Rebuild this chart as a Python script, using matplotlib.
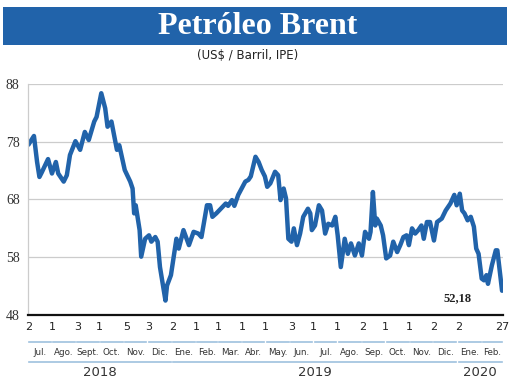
import matplotlib

matplotlib.use("Agg")
import matplotlib.pyplot as plt
import pandas as pd
from matplotlib.patches import Rectangle
from matplotlib.transforms import blended_transform_factory

# precio del Brent (US$ / barril)
fechas = [
    "2018-07-02", "2018-07-09", "2018-07-13", "2018-07-16", "2018-07-19",
    "2018-07-27", "2018-08-01", "2018-08-06", "2018-08-09", "2018-08-16",
    "2018-08-20", "2018-08-24", "2018-08-31", "2018-09-06", "2018-09-12",
    "2018-09-17", "2018-09-24", "2018-09-27", "2018-10-03", "2018-10-08",
    "2018-10-11", "2018-10-16", "2018-10-23", "2018-10-26", "2018-11-02",
    "2018-11-09", "2018-11-12", "2018-11-14", "2018-11-16", "2018-11-21",
    "2018-11-23", "2018-11-28", "2018-12-03", "2018-12-06", "2018-12-11",
    "2018-12-14", "2018-12-17", "2018-12-24", "2018-12-26", "2018-12-31",
    "2019-01-07", "2019-01-10", "2019-01-16", "2019-01-23", "2019-01-29",
    "2019-02-04", "2019-02-08", "2019-02-15", "2019-02-19", "2019-02-22",
    "2019-02-27", "2019-03-11", "2019-03-14", "2019-03-19", "2019-03-22",
    "2019-03-27", "2019-04-05", "2019-04-09", "2019-04-12", "2019-04-18",
    "2019-04-22", "2019-04-26", "2019-04-30", "2019-05-03", "2019-05-07",
    "2019-05-13", "2019-05-17", "2019-05-20", "2019-05-24", "2019-05-27",
    "2019-05-30", "2019-06-03", "2019-06-06", "2019-06-10", "2019-06-14",
    "2019-06-18", "2019-06-24", "2019-06-27", "2019-06-29", "2019-07-03",
    "2019-07-08", "2019-07-12", "2019-07-16", "2019-07-20", "2019-07-25",
    "2019-07-29", "2019-08-01", "2019-08-05", "2019-08-10", "2019-08-14",
    "2019-08-18", "2019-08-23", "2019-08-28", "2019-09-01", "2019-09-05",
    "2019-09-10", "2019-09-12", "2019-09-15", "2019-09-18", "2019-09-20",
    "2019-09-25", "2019-09-28", "2019-10-02", "2019-10-07", "2019-10-11",
    "2019-10-16", "2019-10-20", "2019-10-24", "2019-10-28", "2019-10-31",
    "2019-11-04", "2019-11-08", "2019-11-12", "2019-11-16", "2019-11-19",
    "2019-11-23", "2019-11-27", "2019-12-02", "2019-12-06", "2019-12-12",
    "2019-12-17", "2019-12-23", "2019-12-28", "2019-12-31", "2020-01-04",
    "2020-01-07", "2020-01-10", "2020-01-14", "2020-01-18", "2020-01-22",
    "2020-01-25", "2020-01-28", "2020-02-01", "2020-02-04", "2020-02-07",
    "2020-02-09", "2020-02-14", "2020-02-19", "2020-02-21", "2020-02-27",
]
precios = [
    77.5, 79.0, 74.5, 71.9, 72.7,
    75.0, 72.5, 74.5, 72.5, 71.1,
    72.2, 75.7, 78.1, 76.6, 79.7,
    78.3, 81.5, 82.3, 86.4, 83.8,
    80.6, 81.5, 76.6, 77.4, 73.1,
    71.1, 69.9, 65.6, 67.0, 62.7,
    58.1, 61.2, 61.8, 60.7, 61.5,
    60.7, 56.3, 50.5, 53.1, 54.9,
    61.2, 59.5, 62.7, 60.1, 62.4,
    62.1, 61.5, 67.0, 67.0, 65.0,
    65.6, 67.3, 66.9, 67.9, 66.9,
    68.8, 71.1, 71.4, 72.0, 75.4,
    74.5, 73.1, 72.0, 70.2, 70.8,
    72.8, 72.2, 67.9, 69.9, 68.2,
    61.2, 60.7, 63.0, 60.1, 62.1,
    65.0, 66.4, 65.6, 62.7, 63.5,
    67.0, 66.1, 62.1, 63.8, 63.5,
    65.0, 61.8, 56.3, 61.2, 58.6,
    60.4, 58.3, 60.4, 58.3, 62.4,
    61.2, 62.4, 69.3, 63.5, 64.7,
    63.5, 61.8, 57.8, 58.3, 60.7,
    58.9, 60.1, 61.5, 61.8, 60.1,
    63.0, 62.1, 62.7, 63.5, 61.2,
    64.1, 64.1, 60.9, 64.1, 64.7,
    66.1, 67.3, 68.8, 67.0, 69.0,
    66.1, 65.6, 64.4, 65.0, 63.3,
    59.5, 58.6, 54.3, 54.0, 54.9,
    53.4, 56.6, 59.2, 59.2, 52.2,
]
ultimo_valor = "52,18"

# días marcados en el eje
dias_tick = [
    "2018-07-02", "2018-08-01", "2018-09-03", "2018-10-01", "2018-11-05",
    "2018-12-03", "2019-01-02", "2019-02-01", "2019-03-01", "2019-04-01",
    "2019-05-01", "2019-06-03", "2019-07-01", "2019-08-01", "2019-09-02",
    "2019-10-01", "2019-11-01", "2019-12-02", "2020-01-02", "2020-02-27",
]
meses = [
    "Jul.", "Ago.", "Sept.", "Oct.", "Nov.", "Dic.", "Ene.", "Feb.", "Mar.", "Abr.",
    "May.", "Jun.", "Jul.", "Ago.", "Sep.", "Oct.", "Nov.", "Dic.", "Ene.", "Feb.",
]
inicio_meses = pd.date_range("2018-07-01", "2020-03-01", freq="MS")
anios = ["2018", "2019", "2020"]
valores_y = [48, 58, 68, 78, 88]

AZUL = "#2163aa"
AZUL_CLARO = "#9ec1de"
condensada = ["Liberation Sans Narrow", "DejaVu Sans"]

x = pd.to_datetime(fechas)
inicio = pd.Timestamp("2018-07-01 12:00")
fin = pd.Timestamp("2020-02-28")

fig = plt.figure(figsize=(5.2, 3.82), dpi=100)
ax = fig.add_axes([0.054, 0.1754, 0.913, 0.6047])

ax.plot(x, precios, color=AZUL, lw=3.2, solid_joinstyle="round", solid_capstyle="round")

ax.set_xlim(inicio, fin)
ax.set_ylim(48, 88)
ax.set_yticks(valores_y)
ax.set_yticklabels([str(v) for v in valores_y], family="Liberation Serif", fontsize=10, color="#333333")
ax.grid(axis="y", color="#cccccc", lw=0.9)
ax.set_axisbelow(True)

ax.set_xticks(pd.to_datetime(dias_tick))
ax.set_xticklabels([str(pd.Timestamp(d).day) for d in dias_tick], family=condensada,
                   fontsize=8, color="#222222")
ax.tick_params(axis="both", length=0)
ax.tick_params(axis="x", pad=5)
ax.tick_params(axis="y", pad=6)

for lado in ["top", "right"]:
    ax.spines[lado].set_visible(False)
ax.spines["left"].set_color("#cccccc")
ax.spines["left"].set_linewidth(0.9)
ax.spines["bottom"].set_color("#111111")
ax.spines["bottom"].set_linewidth(1.6)

# último valor
ax.annotate(ultimo_valor, xy=(x[-1], precios[-1]), xytext=(-22, -5), textcoords="offset points",
            ha="right", va="center", family="Liberation Serif", fontweight="bold", fontsize=9,
            color="#222222")

# meses y años bajo el eje
trans = blended_transform_factory(ax.transData, fig.transFigure)
un_dia = pd.Timedelta(days=1)
for i, mes in enumerate(meses):
    a = max(inicio_meses[i], inicio)
    b = min(inicio_meses[i + 1], fin)
    ax.plot([a + 1.5 * un_dia, b - 1.5 * un_dia], [0.105, 0.105], color=AZUL_CLARO, lw=1.2,
            transform=trans, clip_on=False)
    ax.text(a + (b - a) / 2, 0.078, mes, transform=trans, ha="center", va="center",
            family=condensada, fontsize=6.3, color="#333333")

for anio in anios:
    a = max(pd.Timestamp(anio + "-01-01"), inicio)
    b = min(pd.Timestamp(str(int(anio) + 1) + "-01-01"), fin)
    ax.plot([a + 1.5 * un_dia, b - 1.5 * un_dia], [0.053, 0.053], color=AZUL_CLARO, lw=1.2,
            transform=trans, clip_on=False)
    ax.text(a + (b - a) / 2, 0.024, anio, transform=trans, ha="center", va="center",
            fontsize=9.5, color="#333333")

# cabecera
fig.patches.append(Rectangle((0.006, 0.882), 0.969, 0.0995, transform=fig.transFigure,
                             facecolor=AZUL, edgecolor="none"))
fig.text(0.495, 0.930, "Petróleo Brent", ha="center", va="center", color="white",
         family="Liberation Serif", fontweight="bold", fontsize=23)
fig.text(0.476, 0.856, "(US$ / Barril, IPE)", ha="center", va="center", fontsize=8.5,
         color="#222222")

fig.savefig("out.png", dpi=100)
